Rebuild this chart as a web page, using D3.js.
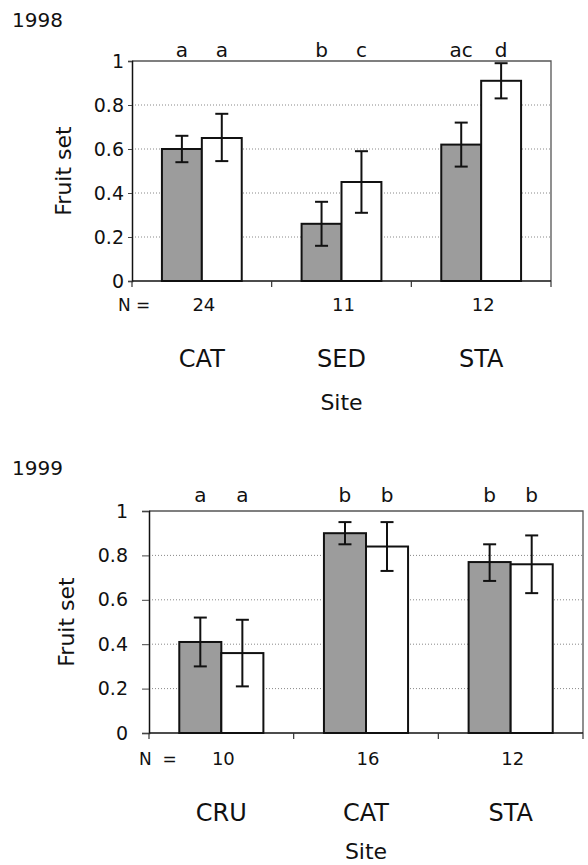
<!DOCTYPE html>
<html>
<head>
<meta charset="utf-8">
<script src="https://cdn.jsdelivr.net/npm/d3@7"></script>
<style>
  body { margin: 0; background: #fff; }
  text { font-family: "DejaVu Sans", "Liberation Sans", Arial, sans-serif; fill: #111; }
</style>
</head>
<body>
<script>
// 1998
const sites98 = ["CAT", "SED", "STA"]
const n98 = [24, 11, 12]
const grey98 = [0.60, 0.26, 0.62]
const greyLo98 = [0.54, 0.16, 0.52]
const greyHi98 = [0.66, 0.36, 0.72]
const white98 = [0.65, 0.45, 0.91]
const whiteLo98 = [0.545, 0.31, 0.83]
const whiteHi98 = [0.76, 0.59, 0.99]
const letters98 = [["a", "a"], ["b", "c"], ["ac", "d"]]

// 1999
const sites99 = ["CRU", "CAT", "STA"]
const n99 = [10, 16, 12]
const grey99 = [0.41, 0.90, 0.77]
const greyLo99 = [0.30, 0.85, 0.685]
const greyHi99 = [0.52, 0.95, 0.85]
const white99 = [0.36, 0.84, 0.76]
const whiteLo99 = [0.21, 0.73, 0.63]
const whiteHi99 = [0.51, 0.95, 0.89]
const letters99 = [["a", "a"], ["b", "b"], ["b", "b"]]

const yTicks = [0, 0.2, 0.4, 0.6, 0.8, 1]

let svg = d3.select("body").append("svg")
  .attr("width", 588)
  .attr("height", 865)

function panel(p) {
  // rows: one per site, two bars each
  let rows = p.sites.map((s, i) => ({
    site: s, n: p.n[i], letters: p.letters[i],
    bars: [
      {k: 0, v: p.grey[i], lo: p.greyLo[i], hi: p.greyHi[i]},
      {k: 1, v: p.white[i], lo: p.whiteLo[i], hi: p.whiteHi[i]}
    ]
  }))

  let x = d3.scaleBand().domain(p.sites).range([0, p.width]).padding(0)
  let x1 = d3.scaleBand().domain([0, 1]).range([0, x.bandwidth()]).paddingInner(0).paddingOuter(p.outer)
  let y = d3.scaleLinear().domain([0, 1]).range([p.height, 0])

  svg.append("text")
    .attr("x", 12).attr("y", p.titleY)
    .style("font-size", "20px")
    .text(p.title)

  let g = svg.append("g").attr("transform", "translate(" + p.left + "," + p.top + ")")

  // dotted gridlines
  g.append("g").selectAll("line")
    .data(yTicks.filter(d => d > 0 && d < 1))
    .enter().append("line")
    .attr("x1", 0).attr("x2", p.width)
    .attr("y1", d => y(d)).attr("y2", d => y(d))
    .attr("stroke", "#888")
    .attr("stroke-dasharray", "1,2")

  // frame top + right
  g.append("path")
    .attr("d", "M0," + y(1) + "H" + p.width + "V" + y(0))
    .attr("fill", "none")
    .attr("stroke", "#555")
    .attr("stroke-width", 1.3)

  // y axis
  let yAxis = g.append("g")
    .call(d3.axisLeft(y).tickValues(yTicks).tickSize(p.tick).tickPadding(p.tickPad).tickFormat(d => d))
  yAxis.select(".domain").attr("stroke", "#111").attr("stroke-width", 1.5)
  yAxis.selectAll(".tick line").attr("stroke", "#444")
  yAxis.selectAll("text").style("font-size", "19px").attr("fill", "#111")
    .style("font-family", "'DejaVu Sans', Arial, sans-serif")

  g.append("text")
    .attr("transform", "translate(" + (p.ylabX - p.left) + "," + (p.height / 2) + ") rotate(-90)")
    .attr("text-anchor", "middle")
    .style("font-size", "22px")
    .text("Fruit set")

  // bars
  let grp = g.selectAll(".site")
    .data(rows)
    .enter().append("g")
    .attr("transform", d => "translate(" + x(d.site) + ",0)")

  grp.selectAll("rect")
    .data(d => d.bars)
    .enter().append("rect")
    .attr("x", d => x1(d.k))
    .attr("width", x1.bandwidth())
    .attr("y", d => y(d.v))
    .attr("height", d => y(0) - y(d.v))
    .attr("fill", d => d.k === 0 ? "#9c9c9c" : "#fff")
    .attr("stroke", "#111")
    .attr("stroke-width", 2)

  // error bars
  let eb = grp.selectAll(".err")
    .data(d => d.bars)
    .enter().append("g")
    .attr("transform", d => "translate(" + (x1(d.k) + x1.bandwidth() / 2) + ",0)")
  eb.append("line")
    .attr("y1", d => y(d.lo)).attr("y2", d => y(d.hi))
    .attr("stroke", "#111").attr("stroke-width", 2)
  eb.append("line")
    .attr("x1", -6.5).attr("x2", 6.5)
    .attr("y1", d => y(d.hi)).attr("y2", d => y(d.hi))
    .attr("stroke", "#111").attr("stroke-width", 2)
  eb.append("line")
    .attr("x1", -6.5).attr("x2", 6.5)
    .attr("y1", d => y(d.lo)).attr("y2", d => y(d.lo))
    .attr("stroke", "#111").attr("stroke-width", 2)

  // significance letters
  grp.selectAll(".let")
    .data(d => d.letters)
    .enter().append("text")
    .attr("x", (d, i) => x1(i) + x1.bandwidth() / 2)
    .attr("y", p.letY - p.top)
    .attr("text-anchor", "middle")
    .style("font-size", "20px")
    .text(d => d)

  // x axis line and ticks at site boundaries
  g.append("line")
    .attr("x1", 0).attr("x2", p.width)
    .attr("y1", y(0)).attr("y2", y(0))
    .attr("stroke", "#111").attr("stroke-width", 1.5)
  g.append("g").selectAll("line")
    .data(p.sites.map(s => x(s)).concat([p.width]))
    .enter().append("line")
    .attr("x1", d => d).attr("x2", d => d)
    .attr("y1", y(0)).attr("y2", y(0) + 6)
    .attr("stroke", "#333").attr("stroke-width", 1.2)

  // N row
  svg.append("text")
    .attr("x", p.nX).attr("y", p.nY)
    .style("font-size", "17px")
    .attr("xml:space", "preserve")
    .text(p.nLabel)
  grp.append("text")
    .attr("x", x.bandwidth() / 2 + 2)
    .attr("y", p.nY - p.top)
    .attr("text-anchor", "middle")
    .style("font-size", "18px")
    .text(d => d.n)

  // site names
  grp.append("text")
    .attr("x", x.bandwidth() / 2)
    .attr("y", p.siteY - p.top)
    .attr("text-anchor", "middle")
    .style("font-size", "24px")
    .text(d => d.site)

  g.append("text")
    .attr("x", p.width / 2)
    .attr("y", p.axY - p.top)
    .attr("text-anchor", "middle")
    .style("font-size", "22px")
    .text("Site")
}

panel({
  title: "1998", titleY: 27,
  sites: sites98, n: n98, letters: letters98,
  grey: grey98, greyLo: greyLo98, greyHi: greyHi98,
  white: white98, whiteLo: whiteLo98, whiteHi: whiteHi98,
  left: 132, top: 61, width: 419, height: 220, outer: 0.75,
  tick: 4, tickPad: 4, ylabX: 71,
  letY: 57, nX: 118, nY: 311, nLabel: "N =", siteY: 367, axY: 410
})

panel({
  title: "1999", titleY: 475,
  sites: sites99, n: n99, letters: letters99,
  grey: grey99, greyLo: greyLo99, greyHi: greyHi99,
  white: white99, whiteLo: whiteLo99, whiteHi: whiteHi99,
  left: 149, top: 511, width: 434, height: 222, outer: 0.72,
  tick: 7, tickPad: 14, ylabX: 74,
  letY: 502, nX: 139, nY: 765, nLabel: "N  =", siteY: 821, axY: 859
})
</script>
</body>
</html>
